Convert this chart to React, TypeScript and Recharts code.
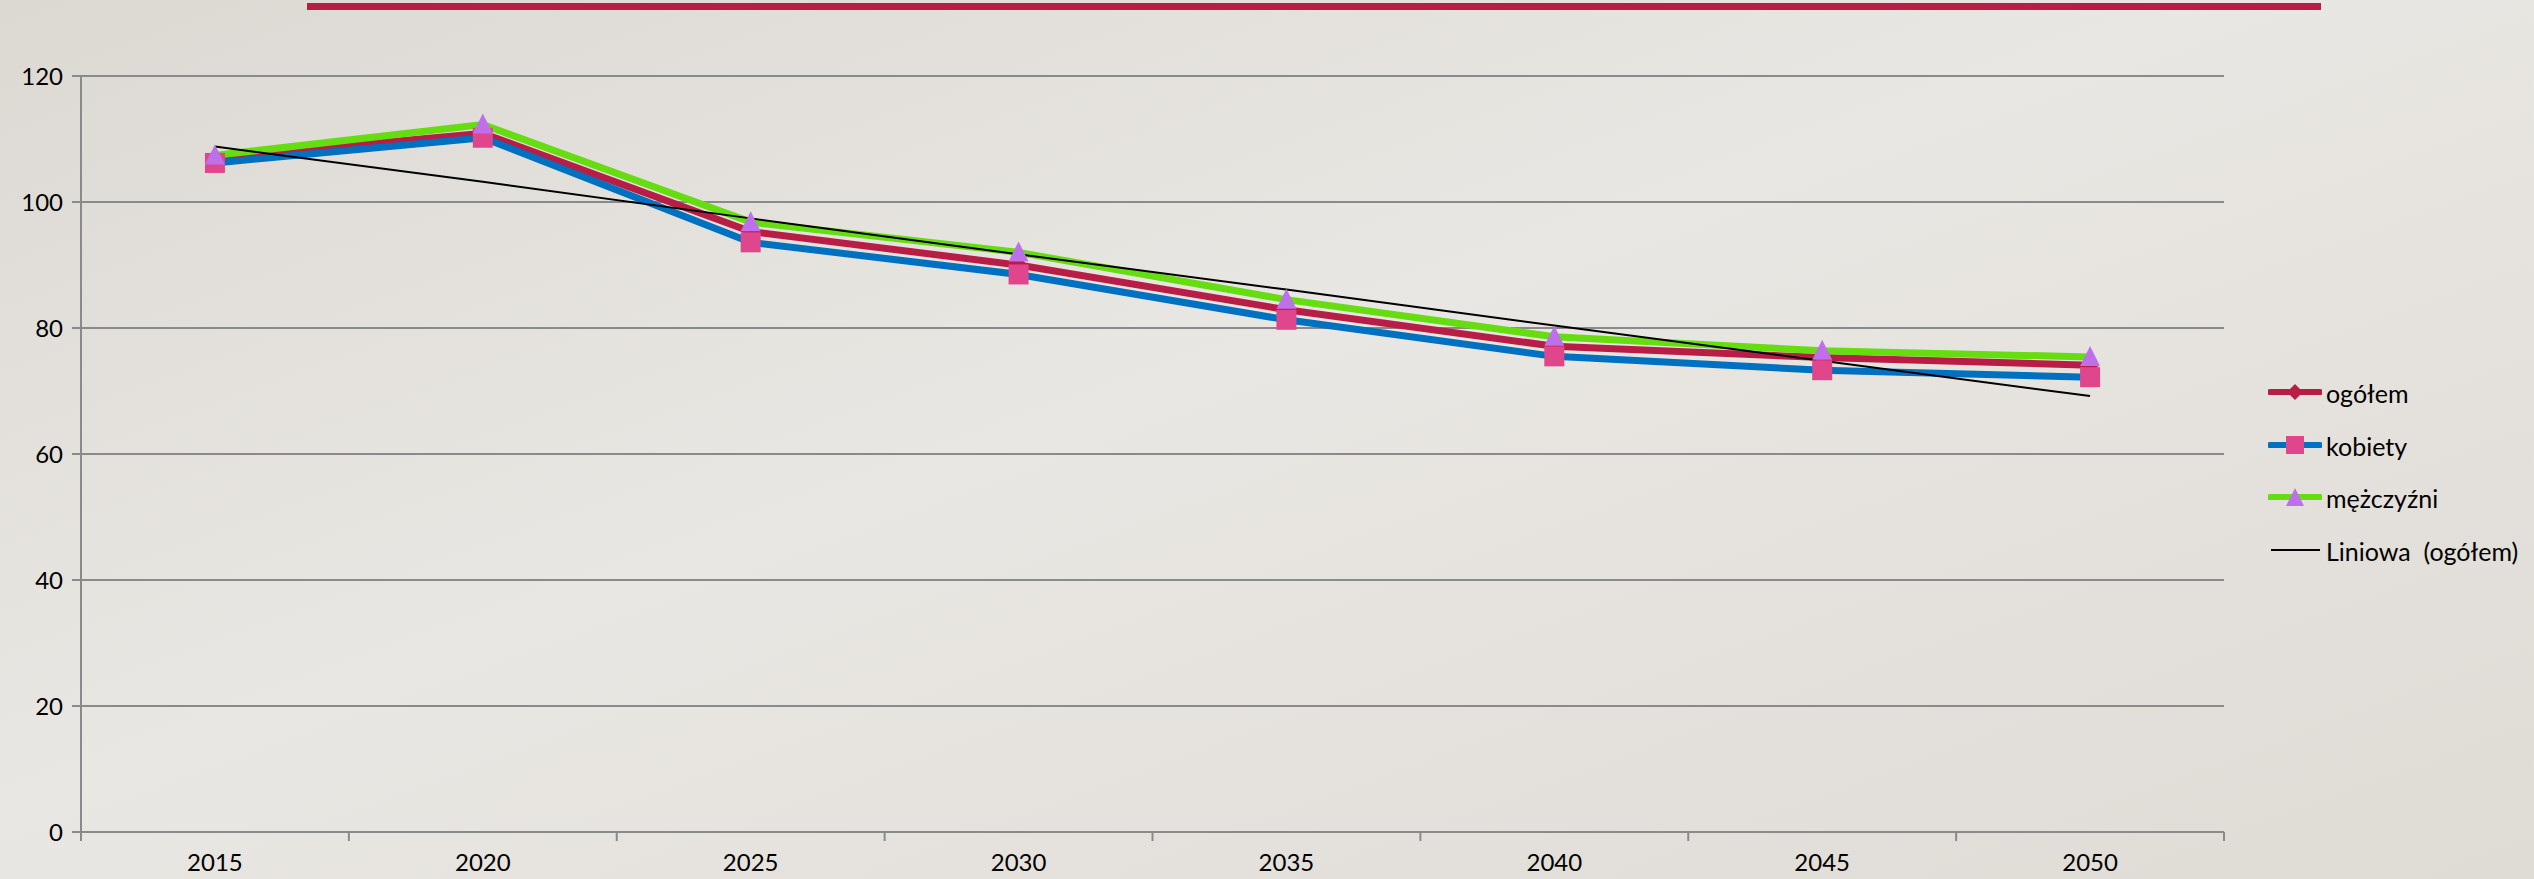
import { CartesianGrid, Line, LineChart, XAxis, YAxis } from "recharts";

const years = ["2015", "2020", "2025", "2030", "2035", "2040", "2045", "2050"];
const ogolem = [107.0, 110.9, 95.3, 90.0, 82.9, 77.1, 75.3, 74.1];
const kobiety = [106.2, 110.2, 93.6, 88.5, 81.3, 75.5, 73.3, 72.2];
const mezczyzni = [107.4, 112.3, 96.8, 92.0, 84.5, 78.6, 76.4, 75.4];
const trendOgolem = [108.8, 103.2, 97.4, 91.7, 86.1, 80.4, 74.8, 69.2];
const yTicks = [0, 20, 40, 60, 80, 100, 120];

const FONT = "Lato, 'Open Sans', sans-serif";
const GRID = "#8a8a8a";
const RED = "#b81e45";
const BLUE = "#0070c0";
const GREEN = "#66dd11";
const PINK = "#e0468c";
const VIOLET = "#bf6fea";

const CHART_W = 2534;
const CHART_H = 879;
const MARGIN = { top: 76, right: 310, bottom: 0, left: 0 };
const Y_AXIS_W = 81;

const data = years.map((year, i) => ({
  year,
  pos: i + 0.5,
  ogolem: ogolem[i],
  kobiety: kobiety[i],
  mezczyzni: mezczyzni[i],
  trend: trendOgolem[i],
}));

// tick marks sit between the categories (Excel style), labels in the middle
const boundaryTicks = years.map((_, i) => i).concat(years.length);

function YearTick(props: any) {
  const { x, y, width, payload } = props;
  const plotW = Number(width) || CHART_W - MARGIN.right - Y_AXIS_W;
  const half = plotW / years.length / 2;
  const label = years[Math.round(Number(payload?.value))];
  return (
    <g>
      <line x1={x} x2={x} y1={y} y2={y + 9} stroke={GRID} strokeWidth={2} />
      {label && (
        <text x={x + half} y={y + 22} dy="0.71em" textAnchor="middle" fontSize={24} fontFamily={FONT} fill="#000">
          {label}
        </text>
      )}
    </g>
  );
}

function DiamondDot(props: any) {
  const { cx, cy, index } = props;
  if (cx == null || cy == null) return null;
  return (
    <polygon
      key={`dia-${index}`}
      points={`${cx},${cy - 9} ${cx + 9},${cy} ${cx},${cy + 9} ${cx - 9},${cy}`}
      fill={RED}
    />
  );
}

function SquareDot(props: any) {
  const { cx, cy, index } = props;
  if (cx == null || cy == null) return null;
  return <rect key={`sq-${index}`} x={cx - 10} y={cy - 10} width={20} height={20} fill={PINK} />;
}

function TriangleDot(props: any) {
  const { cx, cy, index } = props;
  if (cx == null || cy == null) return null;
  return (
    <polygon
      key={`tri-${index}`}
      points={`${cx},${cy - 11} ${cx + 10},${cy + 9} ${cx - 10},${cy + 9}`}
      fill={VIOLET}
    />
  );
}

type LegendItem = { label: string; color: string; marker: "diamond" | "square" | "triangle" | "none" };

const legendItems: LegendItem[] = [
  { label: "ogółem", color: RED, marker: "diamond" },
  { label: "kobiety", color: BLUE, marker: "square" },
  { label: "mężczyźni", color: GREEN, marker: "triangle" },
  { label: "Liniowa  (ogółem)", color: "#000", marker: "none" },
];

function LegendIcon({ item }: { item: LegendItem }) {
  return (
    <svg width={54} height={24} style={{ flex: "none", display: "block" }}>
      <line
        x1={item.marker === "none" ? 3 : 2}
        x2={52}
        y1={12}
        y2={12}
        stroke={item.color}
        strokeWidth={item.marker === "none" ? 2 : 6}
        strokeLinecap={item.marker === "none" ? "butt" : "round"}
      />
      {item.marker === "diamond" && <polygon points="27,4 35,12 27,20 19,12" fill={RED} />}
      {item.marker === "square" && <rect x={18} y={3} width={18} height={18} fill={PINK} />}
      {item.marker === "triangle" && <polygon points="27,3 36,21 18,21" fill={VIOLET} />}
    </svg>
  );
}

export default function App() {
  return (
    <div
      style={{
        position: "fixed",
        left: 0,
        top: 0,
        width: CHART_W,
        height: CHART_H,
        overflow: "hidden",
        background: "linear-gradient(160deg, #dcd9d3 0%, #e9e7e3 45%, #dfdbd5 100%)",
        fontFamily: FONT,
      }}
    >
      <div style={{ position: "absolute", left: 307, top: 3, width: 2014, height: 7, background: RED }} />
      <LineChart width={CHART_W} height={CHART_H} data={data} margin={MARGIN}>
        <CartesianGrid vertical={false} stroke={GRID} strokeWidth={2} />
        <XAxis
          type="number"
          dataKey="pos"
          domain={[0, years.length]}
          ticks={boundaryTicks}
          interval={0}
          tick={YearTick}
          tickLine={false}
          tickSize={0}
          tickMargin={0}
          height={47}
          axisLine={{ stroke: GRID, strokeWidth: 2 }}
        />
        <YAxis
          domain={[0, 120]}
          ticks={yTicks}
          interval={0}
          width={Y_AXIS_W}
          tickSize={9}
          tickMargin={9}
          axisLine={{ stroke: GRID, strokeWidth: 2 }}
          tickLine={{ stroke: GRID, strokeWidth: 2 }}
          tick={{ fill: "#000", fontSize: 24, fontFamily: FONT }}
        />
        <Line
          type="linear"
          dataKey="ogolem"
          name="ogółem"
          stroke={RED}
          strokeWidth={7}
          dot={DiamondDot}
          activeDot={false}
          isAnimationActive={false}
        />
        <Line
          type="linear"
          dataKey="kobiety"
          name="kobiety"
          stroke={BLUE}
          strokeWidth={7}
          dot={SquareDot}
          activeDot={false}
          isAnimationActive={false}
        />
        <Line
          type="linear"
          dataKey="mezczyzni"
          name="mężczyźni"
          stroke={GREEN}
          strokeWidth={7}
          dot={TriangleDot}
          activeDot={false}
          isAnimationActive={false}
        />
        <Line
          type="linear"
          dataKey="trend"
          name="Liniowa (ogółem)"
          stroke="#000"
          strokeWidth={2}
          dot={false}
          activeDot={false}
          isAnimationActive={false}
        />
      </LineChart>
      <div style={{ position: "absolute", left: 2268, top: 366 }}>
        {legendItems.map((item) => (
          <div
            key={item.label}
            style={{
              display: "flex",
              alignItems: "center",
              height: 52.5,
              fontSize: 25,
              lineHeight: "28px",
              color: "#000",
              whiteSpace: "pre",
            }}
          >
            <LegendIcon item={item} />
            <span style={{ marginLeft: 4, position: "relative", top: 1 }}>{item.label}</span>
          </div>
        ))}
      </div>
    </div>
  );
}
